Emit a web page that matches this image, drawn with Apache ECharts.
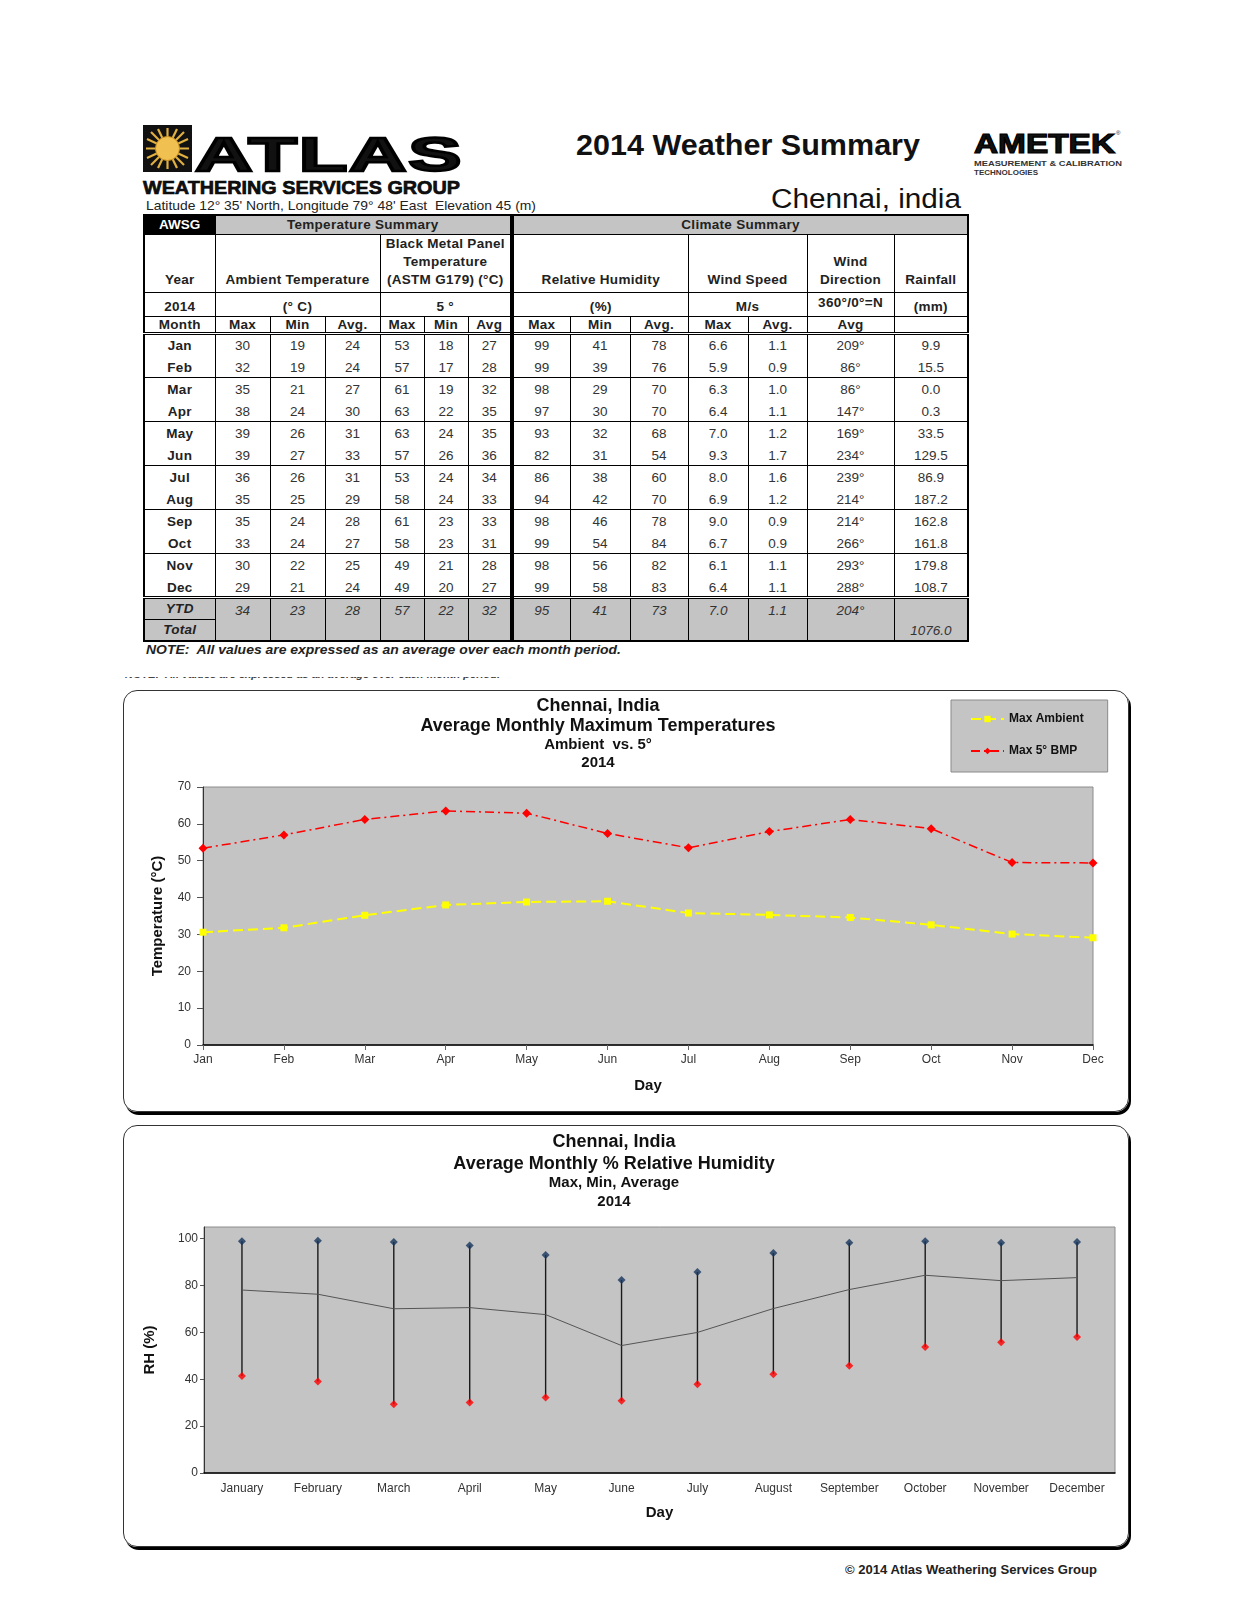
<!DOCTYPE html>
<html>
<head>
<meta charset="utf-8">
<title>2014 Weather Summary - Chennai, India</title>
<script src="https://cdn.jsdelivr.net/npm/echarts@6/dist/echarts.min.js"></script>
<style>
  body { margin: 0; background: #fff; font-family: "Liberation Sans", Arial, sans-serif; color: #111; }
  .page { position: relative; width: 1260px; height: 1604px; overflow: hidden; }
  .abs { position: absolute; white-space: nowrap; }
  .fit { transform-origin: left center; display: inline-block; }

  #tbl { position: absolute; left: 143px; top: 214px; width: 824px; border-collapse: collapse;
         table-layout: fixed; font-size: 13.5px; border: 2px solid #000; }
  #tbl td { border-left: 1px solid #000; border-right: 1px solid #000; padding: 0; text-align: center;
            white-space: nowrap; overflow: hidden; color: #333; line-height: 15px; }
  #tbl .b { font-weight: bold; color: #222; letter-spacing: 0.3px; }
  #tbl .awsg { background: #000; color: #fff; font-weight: bold; }
  #tbl .grey { background: #c4c4c4; }
  #tbl .thick { border-right: 4px solid #000; }
  #tbl .vb { vertical-align: bottom; padding-bottom: 3px; line-height: 18px; }
  #tbl tr.line td { border-bottom: 1px solid #000; }
  #tbl tr.dbl td { border-bottom: 3px double #000; }
  #tbl .it { font-style: italic; }

  .box { position: absolute; border: 1.5px solid #333; border-radius: 14px; box-shadow: 2px 3px 0 #000; }
  .chart { position: absolute; }
</style>
</head>
<body>
<div class="page">
  <!-- ATLAS logo -->
  <svg class="abs" style="left:143px;top:125px" width="49" height="47" viewBox="0 0 49 47">
    <rect width="49" height="47" fill="#111"/>
    <g stroke="#e0b040" stroke-width="2.2">
      <line x1="24.5" y1="3" x2="24.5" y2="44"/>
      <line x1="3" y1="23.5" x2="46" y2="23.5"/>
      <line x1="8" y1="7" x2="41" y2="40"/>
      <line x1="41" y1="7" x2="8" y2="40"/>
      <line x1="15" y1="4" x2="34" y2="43"/>
      <line x1="34" y1="4" x2="15" y2="43"/>
      <line x1="4" y1="14" x2="45" y2="33"/>
      <line x1="45" y1="14" x2="4" y2="33"/>
    </g>
    <circle cx="24.5" cy="23.5" r="12" fill="#f0c050" stroke="#c89020" stroke-width="1"/>
  </svg>
  <div class="abs" style="left:195px;top:129px;line-height:50px">
    <span id="atlas" class="fit" style="font-size:49px;font-weight:bold;-webkit-text-stroke:2.5px #000;letter-spacing:1px">ATLAS</span>
  </div>
  <div class="abs" style="left:143px;top:178px;line-height:20px">
    <span id="wsg" class="fit" style="font-size:18px;font-weight:bold;-webkit-text-stroke:0.6px #000">WEATHERING SERVICES GROUP</span>
  </div>
  <div class="abs" style="left:146px;top:198px;font-size:13px;line-height:16px;color:#222">
    <span id="lat" class="fit">Latitude 12° 35' North, Longitude 79° 48' East&nbsp; Elevation 45 (m)</span>
  </div>

  <div class="abs" style="left:576px;top:127px;font-size:29px;font-weight:bold;line-height:36px;color:#111">
    <span id="ttl" class="fit">2014 Weather Summary</span>
  </div>
  <div class="abs" style="left:771px;top:184px;font-size:27px;line-height:30px;color:#111">
    <span id="city" class="fit">Chennai, india</span>
  </div>

  <!-- AMETEK logo -->
  <div class="abs" style="left:974px;top:129px;line-height:30px">
    <span id="ametek" class="fit" style="font-size:27px;font-weight:bold;-webkit-text-stroke:1.2px #000">AMETEK</span>
  </div>
  <div class="abs" style="left:1116px;top:130px;font-size:6px">®</div>
  <div class="abs" style="left:974px;top:156px;line-height:10px">
    <span id="mcal" class="fit" style="font-size:8px;font-weight:bold;color:#333">MEASUREMENT &amp; CALIBRATION</span>
  </div>
  <div class="abs" style="left:974px;top:168px;line-height:10px;font-size:8px;font-weight:bold;color:#333">TECHNOLOGIES</div>

  <table id="tbl"></table>

  <div class="abs" style="left:146px;top:643px;font-size:12.5px;font-weight:bold;font-style:italic;color:#222;line-height:15px">
    <span id="note" class="fit">NOTE:&nbsp; All values are expressed as an average over each month period.</span>
  </div>
  <div class="abs" style="left:125px;top:677px;height:5px;overflow:hidden;width:440px">
    <div style="margin-top:-9px;font-size:11px;font-weight:bold;font-style:italic;color:#444">NOTE:&nbsp; All values are expressed as an average over each month period.</div>
  </div>

  <div class="box" style="left:123px;top:690px;width:1004px;height:420px"></div>
  <div id="c1" class="chart" style="left:123px;top:690px;width:1007px;height:423px"></div>

  <div class="box" style="left:123px;top:1125px;width:1004px;height:420px"></div>
  <div id="c2" class="chart" style="left:123px;top:1125px;width:1007px;height:423px"></div>

  <div class="abs" style="left:845px;top:1563px;font-size:12px;font-weight:bold;color:#222;line-height:15px">
    <span id="copy" class="fit">© 2014 Atlas Weathering Services Group</span>
  </div>
</div>

<script>
// ---- table values ----
const months = ["Jan", "Feb", "Mar", "Apr", "May", "Jun", "Jul", "Aug", "Sep", "Oct", "Nov", "Dec"];
const ambMax = [30, 32, 35, 38, 39, 39, 36, 35, 35, 33, 30, 29];
const ambMin = [19, 19, 21, 24, 26, 27, 26, 25, 24, 24, 22, 21];
const ambAvg = [24, 24, 27, 30, 31, 33, 31, 29, 28, 27, 25, 24];
const bmpMax = [53, 57, 61, 63, 63, 57, 53, 58, 61, 58, 49, 49];
const bmpMin = [18, 17, 19, 22, 24, 26, 24, 24, 23, 23, 21, 20];
const bmpAvg = [27, 28, 32, 35, 35, 36, 34, 33, 33, 31, 28, 27];
const rhMax = [99, 99, 98, 97, 93, 82, 86, 94, 98, 99, 98, 99];
const rhMin = [41, 39, 29, 30, 32, 31, 38, 42, 46, 54, 56, 58];
const rhAvg = [78, 76, 70, 70, 68, 54, 60, 70, 78, 84, 82, 83];
const windMax = ["6.6", "5.9", "6.3", "6.4", "7.0", "9.3", "8.0", "6.9", "9.0", "6.7", "6.1", "6.4"];
const windAvg = ["1.1", "0.9", "1.0", "1.1", "1.2", "1.7", "1.6", "1.2", "0.9", "0.9", "1.1", "1.1"];
const windDir = [209, 86, 86, 147, 169, 234, 239, 214, 214, 266, 293, 288];
const rainfall = ["9.9", "15.5", "0.0", "0.3", "33.5", "129.5", "86.9", "187.2", "162.8", "161.8", "179.8", "108.7"];
const ytdValues = ["34", "23", "28", "57", "22", "32", "95", "41", "73", "7.0", "1.1", "204°"];
const rainTotal = "1076.0";

// ---- chart values ----
const chartMonths = ["Jan", "Feb", "Mar", "Apr", "May", "Jun", "Jul", "Aug", "Sep", "Oct", "Nov", "Dec"];
const maxAmbient = [30.6, 31.8, 35.2, 38.0, 38.8, 39.0, 35.8, 35.3, 34.6, 32.6, 30.1, 29.1];
const maxBmp = [53.4, 57.0, 61.2, 63.5, 62.9, 57.4, 53.5, 57.9, 61.2, 58.7, 49.5, 49.4];
const tempTicks = [0, 70, 10];

const rhMonths = ["January", "February", "March", "April", "May", "June", "July",
  "August", "September", "October", "November", "December"];
const rhMaxPts = [98.9, 99.1, 98.6, 97.1, 93.0, 82.4, 85.8, 93.9, 98.3, 98.9, 98.3, 98.6];
const rhMinPts = [41.4, 39.1, 29.3, 30.1, 32.2, 30.8, 37.9, 42.2, 45.8, 53.8, 55.8, 58.0];
const rhAvgPts = [78.1, 76.3, 70.1, 70.6, 67.6, 54.4, 60.0, 70.2, 78.3, 84.4, 82.1, 83.4];
const rhTicks = [0, 20, 40, 60, 80, 100];

const FONT = '"Liberation Sans", Arial, sans-serif';

// ---- build the summary table ----
function buildTable() {
  const widths = [71, 55, 55, 55, 44, 44, 44, 58, 60, 58, 60, 59, 87, 74];
  let h = "<colgroup>" + widths.map(w => '<col style="width:' + w + 'px">').join("") + "</colgroup>";
  h += '<tr style="height:19px" class="line">' +
    '<td class="awsg">AWSG</td>' +
    '<td colspan="6" class="grey b thick">Temperature Summary</td>' +
    '<td colspan="7" class="grey b">Climate Summary</td></tr>';
  h += '<tr style="height:57px" class="line">' +
    '<td class="b vb">Year</td>' +
    '<td colspan="3" class="b vb">Ambient Temperature</td>' +
    '<td colspan="3" class="b vb thick">Black Metal Panel<br>Temperature<br>(ASTM G179) (°C)</td>' +
    '<td colspan="3" class="b vb">Relative Humidity</td>' +
    '<td colspan="2" class="b vb">Wind Speed</td>' +
    '<td class="b vb">Wind<br>Direction</td>' +
    '<td class="b vb">Rainfall</td></tr>';
  h += '<tr style="height:24px" class="line">' +
    '<td class="b" style="padding-top:5px">2014</td>' +
    '<td colspan="3" class="b" style="padding-top:5px">(° C)</td>' +
    '<td colspan="3" class="b thick" style="padding-top:5px">5 °</td>' +
    '<td colspan="3" class="b" style="padding-top:5px">(%)</td>' +
    '<td colspan="2" class="b" style="padding-top:5px">M/s</td>' +
    '<td class="b" style="padding-bottom:4px">360°/0°=N</td>' +
    '<td class="b" style="padding-top:5px">(mm)</td></tr>';
  const sub = ["Month", "Max", "Min", "Avg.", "Max", "Min", "Avg", "Max", "Min", "Avg.", "Max", "Avg.", "Avg", ""];
  h += '<tr style="height:16px" class="dbl">' +
    sub.map((s, i) => '<td class="b' + (i === 6 ? " thick" : "") + '">' + s + "</td>").join("") + "</tr>";
  for (let i = 0; i < months.length; i++) {
    const cells = [months[i], ambMax[i], ambMin[i], ambAvg[i], bmpMax[i], bmpMin[i], bmpAvg[i],
      rhMax[i], rhMin[i], rhAvg[i], windMax[i], windAvg[i], windDir[i] + "°", rainfall[i]];
    const cls = i === 11 ? "dbl" : (i % 2 === 1 ? "line" : "");
    h += '<tr style="height:22px" class="' + cls + '">' + cells.map((c, j) => {
      let k = j === 0 ? "b" : "";
      if (j === 6) k += " thick";
      return '<td class="' + k + '" style="padding-top:' + (i % 2 === 0 ? 2 : 4) + 'px">' + c + "</td>";
    }).join("") + "</tr>";
  }
  h += '<tr style="height:22px" class="grey">' +
    '<td class="b it grey" style="border-bottom:1px solid #000">YTD</td>' +
    ytdValues.map((v, j) => '<td rowspan="2" class="it grey' + (j === 5 ? " thick" : "") +
      '" style="vertical-align:top;padding-top:4px">' + v + "</td>").join("") +
    '<td rowspan="2" class="it grey" style="vertical-align:bottom;padding-bottom:2px">' + rainTotal + "</td></tr>";
  h += '<tr style="height:22px"><td class="b it grey">Total</td></tr>';
  document.getElementById("tbl").innerHTML = h;
}
buildTable();

// squeeze or stretch a text run to the width it takes in the scan
function fitWidth(id, w) {
  const el = document.getElementById(id);
  const r = el.getBoundingClientRect().width;
  el.style.transform = "scaleX(" + (w / r) + ")";
}
fitWidth("atlas", 268);
fitWidth("wsg", 317);
fitWidth("lat", 390);
fitWidth("ttl", 344);
fitWidth("city", 190);
fitWidth("ametek", 141);
fitWidth("mcal", 148);
fitWidth("note", 475);
fitWidth("copy", 252);

function titleLines(cx, lines) {
  return lines.map(l => ({
    type: "text", x: cx, y: l[0],
    style: { text: l[1], align: "center", verticalAlign: "middle", fill: "#111",
      font: "bold " + l[2] + "px " + FONT }
  }));
}

// ---- chart 1: average monthly maximum temperatures ----
const chart1 = echarts.init(document.getElementById("c1"));
chart1.setOption({
  animation: false,
  textStyle: { fontFamily: FONT },
  graphic: titleLines(475, [
    [16, "Chennai, India", 18],
    [36, "Average Monthly Maximum Temperatures", 18],
    [55, "Ambient  vs. 5°", 15],
    [73, "2014", 15]
  ]),
  legend: {
    left: 828, top: 10, orient: "vertical",
    padding: [13, 24, 15, 19], itemGap: 20, itemWidth: 33, itemHeight: 8,
    backgroundColor: "#c4c4c4", borderColor: "#8a8a8a", borderWidth: 1,
    textStyle: { fontSize: 12, fontWeight: "bold", color: "#111" },
    data: ["Max Ambient", "Max 5° BMP"]
  },
  grid: {
    left: 80, top: 97, right: 37, bottom: 68, show: true,
    backgroundColor: "#c4c4c4", borderColor: "#8c8c8c", borderWidth: 1,
    containLabel: false, outerBoundsMode: "none"
  },
  xAxis: {
    type: "category", boundaryGap: false, data: chartMonths,
    name: "Day", nameLocation: "middle", nameGap: 33,
    nameTextStyle: { fontSize: 15, fontWeight: "bold", color: "#111" },
    axisLine: { lineStyle: { color: "#000", width: 1.5 } },
    axisTick: { length: 5, lineStyle: { color: "#666" } },
    axisLabel: { fontSize: 12, color: "#333", margin: 9 }
  },
  yAxis: {
    type: "value", min: tempTicks[0], max: tempTicks[1], interval: tempTicks[2],
    name: "Temperature (°C)", nameLocation: "middle", nameGap: 38,
    nameTextStyle: { fontSize: 15, fontWeight: "bold", color: "#111" },
    axisLine: { show: true, lineStyle: { color: "#333", width: 1 } },
    axisTick: { show: true, length: 6, lineStyle: { color: "#555" } },
    axisLabel: { fontSize: 12, color: "#333", margin: 12 },
    splitLine: { show: false }
  },
  series: [
    {
      name: "Max Ambient", type: "line", data: maxAmbient,
      symbol: "rect", symbolSize: 7,
      itemStyle: { color: "#ffff00" },
      lineStyle: { color: "#ffff00", width: 2, type: [10, 5] }
    },
    {
      name: "Max 5° BMP", type: "line", data: maxBmp,
      symbol: "diamond", symbolSize: 9,
      itemStyle: { color: "#ff0000" },
      lineStyle: { color: "#ff0000", width: 1.5, type: [9, 4, 2, 4] }
    }
  ]
});

// ---- chart 2: average monthly relative humidity ----
const chart2 = echarts.init(document.getElementById("c2"));
chart2.setOption({
  animation: false,
  textStyle: { fontFamily: FONT },
  graphic: titleLines(491, [
    [17, "Chennai, India", 18],
    [39, "Average Monthly % Relative Humidity", 18],
    [58, "Max, Min, Average", 15],
    [77, "2014", 15]
  ]),
  grid: {
    left: 81, top: 102, right: 15, bottom: 75, show: true,
    backgroundColor: "#c4c4c4", borderColor: "#8c8c8c", borderWidth: 1,
    containLabel: false, outerBoundsMode: "none"
  },
  xAxis: {
    type: "category", boundaryGap: true, data: rhMonths,
    name: "Day", nameLocation: "middle", nameGap: 32,
    nameTextStyle: { fontSize: 15, fontWeight: "bold", color: "#111" },
    axisLine: { lineStyle: { color: "#000", width: 1.5 } },
    axisTick: { inside: true, length: 5, lineStyle: { color: "#666" } },
    axisLabel: { fontSize: 12, color: "#333", margin: 10, interval: 0 }
  },
  yAxis: {
    type: "value", min: 0, max: 105,
    name: "RH (%)", nameLocation: "middle", nameGap: 47,
    nameTextStyle: { fontSize: 15, fontWeight: "bold", color: "#111" },
    axisLine: { show: true, lineStyle: { color: "#333", width: 1 } },
    axisTick: { show: true, length: 4, customValues: rhTicks, lineStyle: { color: "#555" } },
    axisLabel: { fontSize: 12, color: "#333", margin: 6, customValues: rhTicks },
    splitLine: { show: false }
  },
  series: [
    {
      name: "Range", type: "custom",
      data: rhMinPts.map((v, i) => [i, v, rhMaxPts[i]]),
      encode: { x: 0, y: [1, 2] },
      renderItem: function (params, api) {
        const lo = api.coord([api.value(0), api.value(1)]);
        const hi = api.coord([api.value(0), api.value(2)]);
        return {
          type: "line",
          shape: { x1: lo[0], y1: lo[1], x2: hi[0], y2: hi[1] },
          style: { stroke: "#1a1a1a", lineWidth: 1.4 }
        };
      },
      z: 1
    },
    {
      name: "Average", type: "line", data: rhAvgPts, symbol: "none",
      lineStyle: { color: "#555", width: 1 }, z: 2
    },
    {
      name: "Max", type: "scatter", data: rhMaxPts, symbol: "diamond", symbolSize: 8,
      itemStyle: { color: "#17365d" }, z: 3
    },
    {
      name: "Min", type: "scatter", data: rhMinPts, symbol: "diamond", symbolSize: 8,
      itemStyle: { color: "#ff0000" }, z: 3
    }
  ]
});
</script>
</body>
</html>
